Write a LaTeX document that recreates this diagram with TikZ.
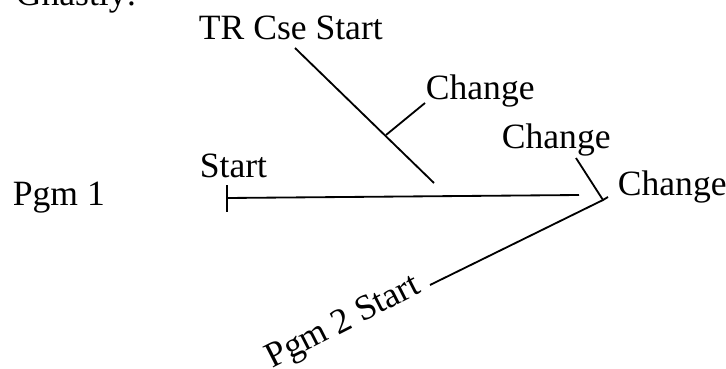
\documentclass[tikz,border=0pt]{standalone}
\usepackage{fontspec}
\setmainfont{Liberation Serif}

\begin{document}
\begin{tikzpicture}[x=0.025cm, y=-0.025cm, line width=1.3pt,
    lbl/.style={inner sep=0pt, anchor=base west, font=\fontsize{25.3}{30}\selectfont}]
  \useasboundingbox (0,0) rectangle (726,369);

  \node[lbl] (ghastly) at (15,5) {Ghastly:};
  \node[lbl] (trcse) at (198,39) {TR Cse Start};
  \node[lbl] (pgmone) at (12,205) {Pgm 1};
  \node[lbl] (start) at (199,177) {Start};
  \node[lbl] (chga) at (425,99) {Change};
  \node[lbl] (chgb) at (501,148) {Change};
  \node[lbl] (chgc) at (617,195) {Change};
  \node[lbl, anchor=base east, rotate=27] (pgmtwo) at (423,292) {Pgm 2 Start};

  \coordinate (trtop) at (295,48);
  \coordinate (trend) at (434,183);
  \coordinate (trknee) at (386,135);
  \coordinate (chgatip) at (425,103);
  \coordinate (tickup) at (227,185);
  \coordinate (tickdn) at (227,212);
  \coordinate (pgmleft) at (227,198);
  \coordinate (pgmright) at (579,195);
  \coordinate (chgbtip) at (576,158);
  \coordinate (vertex) at (603,200);
  \coordinate (stub) at (608,197);
  \coordinate (pgmtwoend) at (430,285);

  \draw (trtop) -- (trend);
  \draw (trknee) -- (chgatip);
  \draw (tickup) -- (tickdn);
  \draw (pgmleft) -- (pgmright);
  \draw (chgbtip) -- (vertex) -- (stub);
  \draw (vertex) -- (pgmtwoend);
\end{tikzpicture}
\end{document}
